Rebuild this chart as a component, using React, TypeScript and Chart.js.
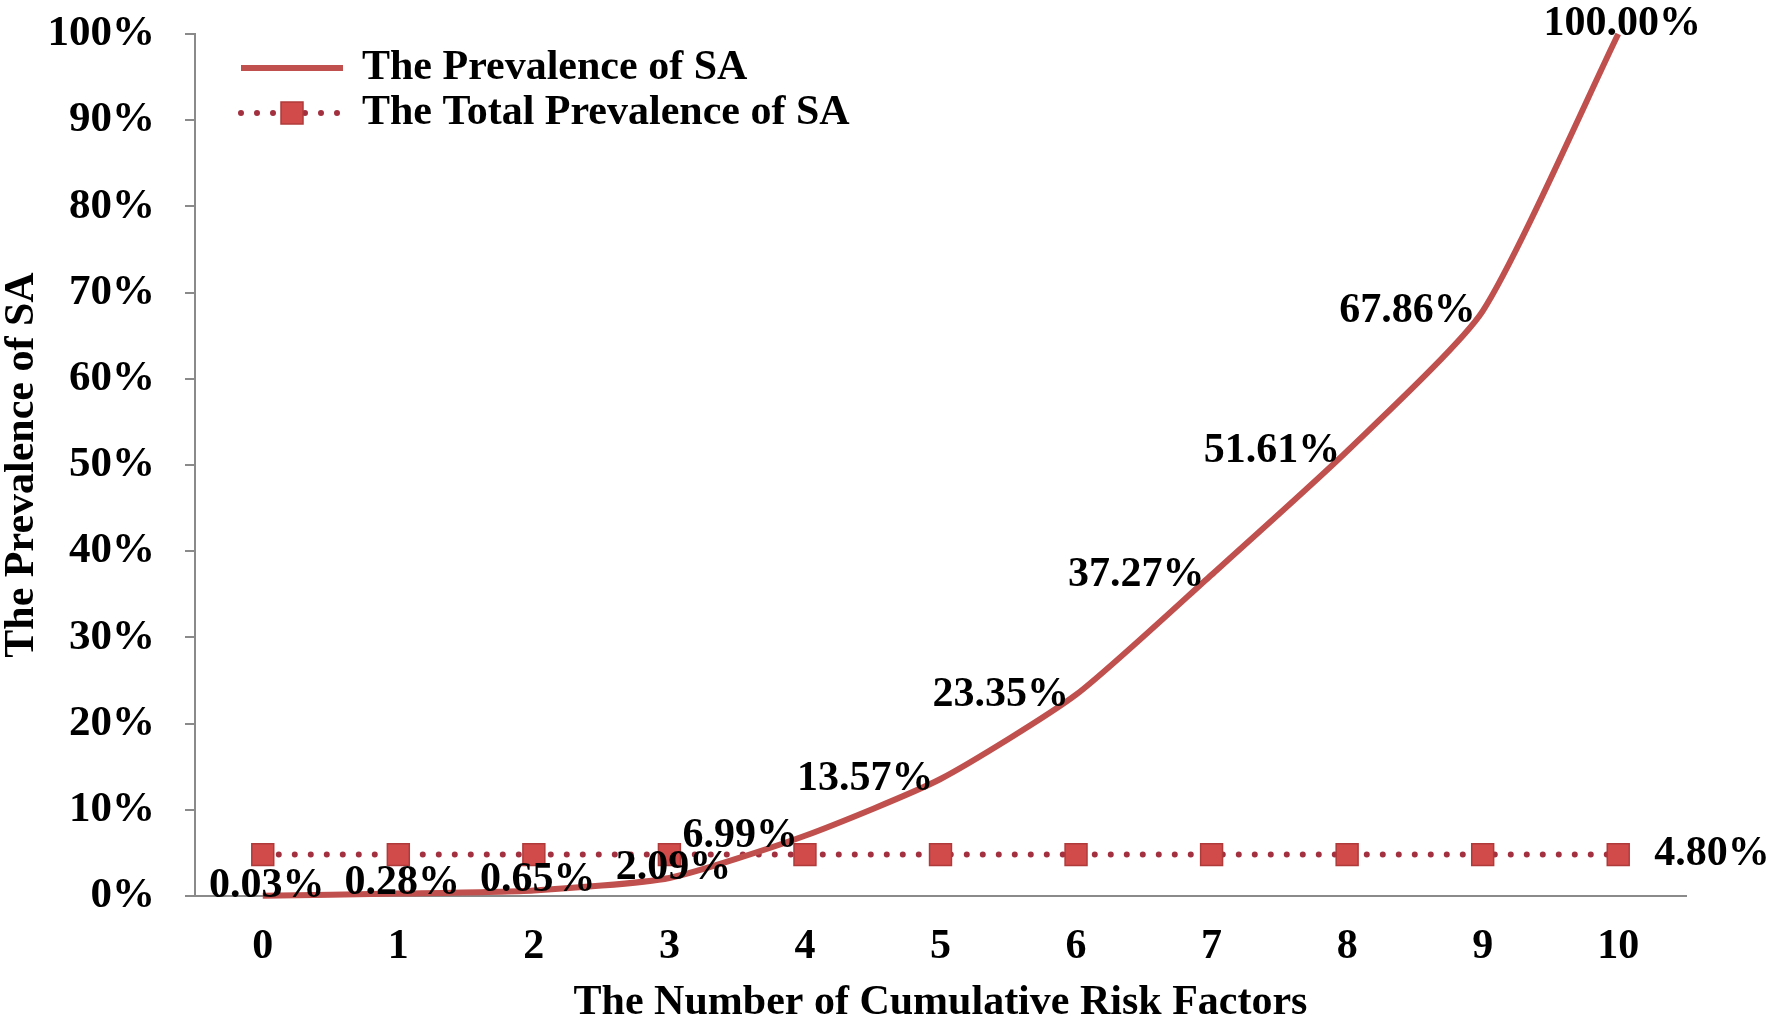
import React, { useEffect, useRef } from 'react';
import { Chart, registerables } from 'chart.js';

Chart.register(...registerables);

const categories = ['0', '1', '2', '3', '4', '5', '6', '7', '8', '9', '10'];
const prevalence = [0.03, 0.28, 0.65, 2.09, 6.99, 13.57, 23.35, 37.27, 51.61, 67.86, 100.0];
const totalPrevalence = [4.8, 4.8, 4.8, 4.8, 4.8, 4.8, 4.8, 4.8, 4.8, 4.8, 4.8];
const seriesNames = ['The Prevalence of SA', 'The Total Prevalence of SA'];
const xTitle = 'The Number of Cumulative Risk Factors';
const yTitle = 'The Prevalence of SA';

const FONT_FAMILY = "'Liberation Serif', 'Times New Roman', serif";
const LINE_RED = '#C0504D';
const DOT_RED = '#A3303F';
const MARKER_FILL = '#D24B4B';
const MARKER_EDGE = '#B03A3A';
const AXIS_GREY = '#8a8a8a';

const font = (size: number) => `bold ${size}px ${FONT_FAMILY}`;

// value labels: small values and the last one sit above the point, the rest to the left
const valueLabels = {
  id: 'valueLabels',
  afterDatasetsDraw(chart: any) {
    const ctx = chart.ctx;
    const last = prevalence.length - 1;
    ctx.save();
    ctx.font = font(42);
    ctx.fillStyle = '#000';
    ctx.textBaseline = 'middle';
    chart.getDatasetMeta(0).data.forEach((pt: any, i: number) => {
      const v = prevalence[i];
      const text = v.toFixed(2) + '%';
      if (i === last || v < 5) {
        ctx.textAlign = 'center';
        ctx.fillText(text, pt.x + 4, pt.y - 10);
      } else {
        ctx.textAlign = 'right';
        ctx.fillText(text, pt.x - 7, pt.y);
      }
    });
    const endPt = chart.getDatasetMeta(1).data[last];
    if (endPt) {
      ctx.textAlign = 'left';
      ctx.fillText(totalPrevalence[last].toFixed(2) + '%', endPt.x + 36, endPt.y);
    }
    ctx.restore();
  },
};

// legend drawn inside the plot, top left
const insideLegend = {
  id: 'insideLegend',
  afterDraw(chart: any) {
    const ctx = chart.ctx;
    const { left, top } = chart.chartArea;
    const x0 = left + 46;
    const x1 = left + 148;
    const rows = [top + 34, top + 79];
    ctx.save();

    // row 1: solid line
    ctx.strokeStyle = LINE_RED;
    ctx.lineWidth = 6;
    ctx.beginPath();
    ctx.moveTo(x0, rows[0]);
    ctx.lineTo(x1, rows[0]);
    ctx.stroke();

    // row 2: dotted line with square marker
    ctx.strokeStyle = DOT_RED;
    ctx.lineWidth = 6;
    ctx.lineCap = 'round';
    ctx.setLineDash([0, 16]);
    ctx.beginPath();
    ctx.moveTo(x0, rows[1]);
    ctx.lineTo(x1, rows[1]);
    ctx.stroke();
    ctx.setLineDash([]);
    const mx = (x0 + x1) / 2;
    ctx.fillStyle = MARKER_FILL;
    ctx.strokeStyle = MARKER_EDGE;
    ctx.lineWidth = 1.5;
    ctx.fillRect(mx - 11, rows[1] - 11, 22, 22);
    ctx.strokeRect(mx - 11, rows[1] - 11, 22, 22);

    ctx.font = font(42);
    ctx.fillStyle = '#000';
    ctx.textAlign = 'left';
    ctx.textBaseline = 'middle';
    seriesNames.forEach((name, i) => ctx.fillText(name, left + 167, rows[i]));
    ctx.restore();
  },
};

const App: React.FC = () => {
  const canvasRef = useRef<HTMLCanvasElement | null>(null);
  const chartRef = useRef<Chart | null>(null);

  useEffect(() => {
    const canvas = canvasRef.current;
    if (!canvas) return;
    if (chartRef.current) chartRef.current.destroy();

    chartRef.current = new Chart(canvas, {
      type: 'line',
      data: {
        labels: categories,
        datasets: [
          {
            label: seriesNames[0],
            data: prevalence,
            borderColor: LINE_RED,
            borderWidth: 6,
            pointRadius: 0,
            tension: 0.2,
            clip: false,
          },
          {
            label: seriesNames[1],
            data: totalPrevalence,
            borderColor: DOT_RED,
            borderWidth: 6,
            borderDash: [0, 16],
            borderCapStyle: 'round',
            pointStyle: 'rect',
            pointRadius: 15.5,
            pointBackgroundColor: MARKER_FILL,
            pointBorderColor: MARKER_EDGE,
            pointBorderWidth: 1.5,
          },
        ],
      } as any,
      options: {
        animation: false,
        responsive: true,
        maintainAspectRatio: false,
        layout: { padding: { top: 34, right: 86, bottom: 0, left: 0 } },
        plugins: {
          legend: { display: false },
          tooltip: { enabled: false },
        },
        scales: {
          x: {
            offset: true,
            afterFit: (s: any) => {
              s.height = 130;
              s.paddingLeft = 0;
              s.paddingRight = 0;
            },
            grid: { display: false, drawTicks: false },
            border: { display: true, color: AXIS_GREY, width: 2 },
            ticks: {
              color: '#000',
              font: { family: FONT_FAMILY, size: 42, weight: 'bold' },
              padding: 26,
            },
            title: {
              display: true,
              text: xTitle,
              color: '#000',
              font: { family: FONT_FAMILY, size: 42, weight: 'bold', lineHeight: 1 },
              padding: { top: 0, bottom: 2 },
            },
          },
          y: {
            min: 0,
            max: 100,
            afterFit: (s: any) => {
              s.width = 195;
              s.paddingTop = 0;
              s.paddingBottom = 0;
            },
            grid: {
              drawOnChartArea: false,
              drawTicks: true,
              tickLength: 10,
              color: AXIS_GREY,
              lineWidth: 2,
            },
            border: { display: true, color: AXIS_GREY, width: 2 },
            ticks: {
              stepSize: 10,
              color: '#000',
              padding: 30,
              font: { family: FONT_FAMILY, size: 43, weight: 'bold' },
              callback: (v: any) => v + '%',
            },
            title: {
              display: true,
              text: yTitle,
              color: '#000',
              font: { family: FONT_FAMILY, size: 42, weight: 'bold', lineHeight: 1 },
              padding: { top: 1, bottom: 0 },
            },
          },
        },
      } as any,
      plugins: [valueLabels, insideLegend],
    });

    return () => {
      if (chartRef.current) {
        chartRef.current.destroy();
        chartRef.current = null;
      }
    };
  }, []);

  return (
    <div style={{ position: 'fixed', left: 0, top: 0, width: 1772, height: 1026, background: '#fff' }}>
      <canvas ref={canvasRef} />
    </div>
  );
};

export default App;
